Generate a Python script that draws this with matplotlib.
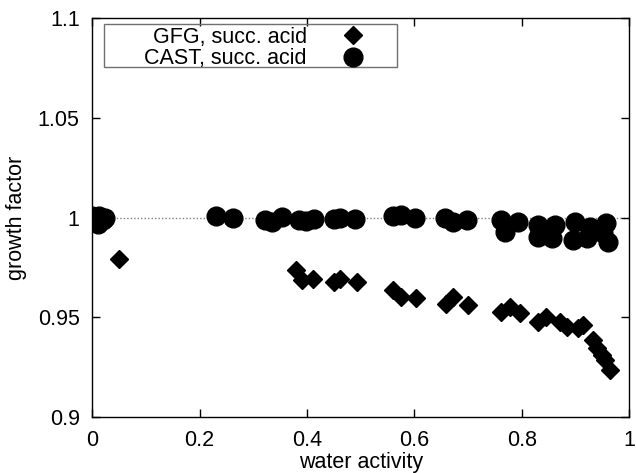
import matplotlib
matplotlib.use('Agg')
import matplotlib.pyplot as plt
from matplotlib.patches import Rectangle

plt.rcParams['font.family'] = ['Liberation Sans', 'DejaVu Sans']

# GFG, succinic acid (diamonds)
gfg_aw = [0.049, 0.379, 0.390, 0.412, 0.451, 0.461, 0.493, 0.560, 0.576, 0.604,
          0.660, 0.672, 0.700, 0.762, 0.778, 0.797, 0.831, 0.846, 0.871, 0.884,
          0.905, 0.915, 0.933, 0.940, 0.949, 0.955, 0.965]
gfg_gf = [0.979, 0.9737, 0.9687, 0.9692, 0.9677, 0.9692, 0.9677, 0.9637, 0.9602, 0.9597,
          0.9567, 0.9602, 0.9562, 0.9528, 0.9553, 0.952, 0.9478, 0.9503, 0.9478, 0.9453,
          0.9445, 0.9461, 0.9386, 0.9345, 0.9311, 0.9286, 0.9236]

# CAST, succinic acid (circles)
cast_aw = [0.0, 0.002, 0.010, 0.012, 0.020, 0.024, 0.231, 0.262, 0.321, 0.334,
           0.353, 0.386, 0.399, 0.414, 0.451, 0.461, 0.489, 0.560, 0.576, 0.601,
           0.657, 0.672, 0.698, 0.762, 0.769, 0.793, 0.830, 0.830, 0.862, 0.856,
           0.899, 0.896, 0.927, 0.921, 0.958, 0.961, 0.951]
cast_gf = [1.001, 0.998, 0.997, 1.001, 0.999, 1.0, 1.001, 1.0, 0.9987, 0.9977,
           1.0002, 0.9987, 0.9982, 0.9992, 0.9992, 0.9997, 0.9992, 1.0007, 1.0012, 0.9997,
           0.9997, 0.9977, 0.9987, 0.9987, 0.9929, 0.9979, 0.9962, 0.9904, 0.9962, 0.9897,
           0.9979, 0.9887, 0.9954, 0.9897, 0.9971, 0.9879, 0.9922]

fig = plt.figure(figsize=(6.36, 4.73), dpi=100)
ax = fig.add_axes([0.145, 0.118, 0.844, 0.844])

# reference line at growth factor 1
ax.axhline(1.0, color='#808080', linestyle=(0, (1, 1.5)), linewidth=1.0, zorder=1)

ax.plot(gfg_aw, gfg_gf, linestyle='none', marker='D', markersize=9,
        color='black', label='GFG, succ. acid', zorder=3)
ax.plot(cast_aw, cast_gf, linestyle='none', marker='o', markersize=13.5,
        color='black', label='CAST, succ. acid', zorder=3)

ax.set_xlim(0, 1)
ax.set_ylim(0.9, 1.1)
ax.set_xticks([0, 0.2, 0.4, 0.6, 0.8, 1])
ax.set_xticklabels(['0', '0.2', '0.4', '0.6', '0.8', '1'])
ax.set_yticks([0.9, 0.95, 1.0, 1.05, 1.1])
ax.set_yticklabels(['0.9', '0.95', '1', '1.05', '1.1'])
ax.tick_params(direction='in', top=True, right=True, length=6, width=1,
               labelsize=15.5, pad=9)

ax.set_xlabel('water activity', fontsize=15.5, labelpad=1)
ax.set_ylabel('growth factor', fontsize=15.5, labelpad=8)

# gnuplot-style key: labels right-aligned, symbol on the right, wide box
leg = ax.legend(loc='upper right', bbox_to_anchor=(0.506, 0.978), markerfirst=False,
                fontsize=15.5, frameon=False, handlelength=1.0, handletextpad=1.64,
                borderpad=0.0, labelspacing=0.02, borderaxespad=0.0)
key_box = Rectangle((0.0223, 0.877), 0.546, 0.108, transform=ax.transAxes,
                    fill=False, edgecolor='#707070', linewidth=1.0, zorder=4)
ax.add_patch(key_box)

for s in ax.spines.values():
    s.set_linewidth(1.0)

fig.savefig('out.png', dpi=100)
